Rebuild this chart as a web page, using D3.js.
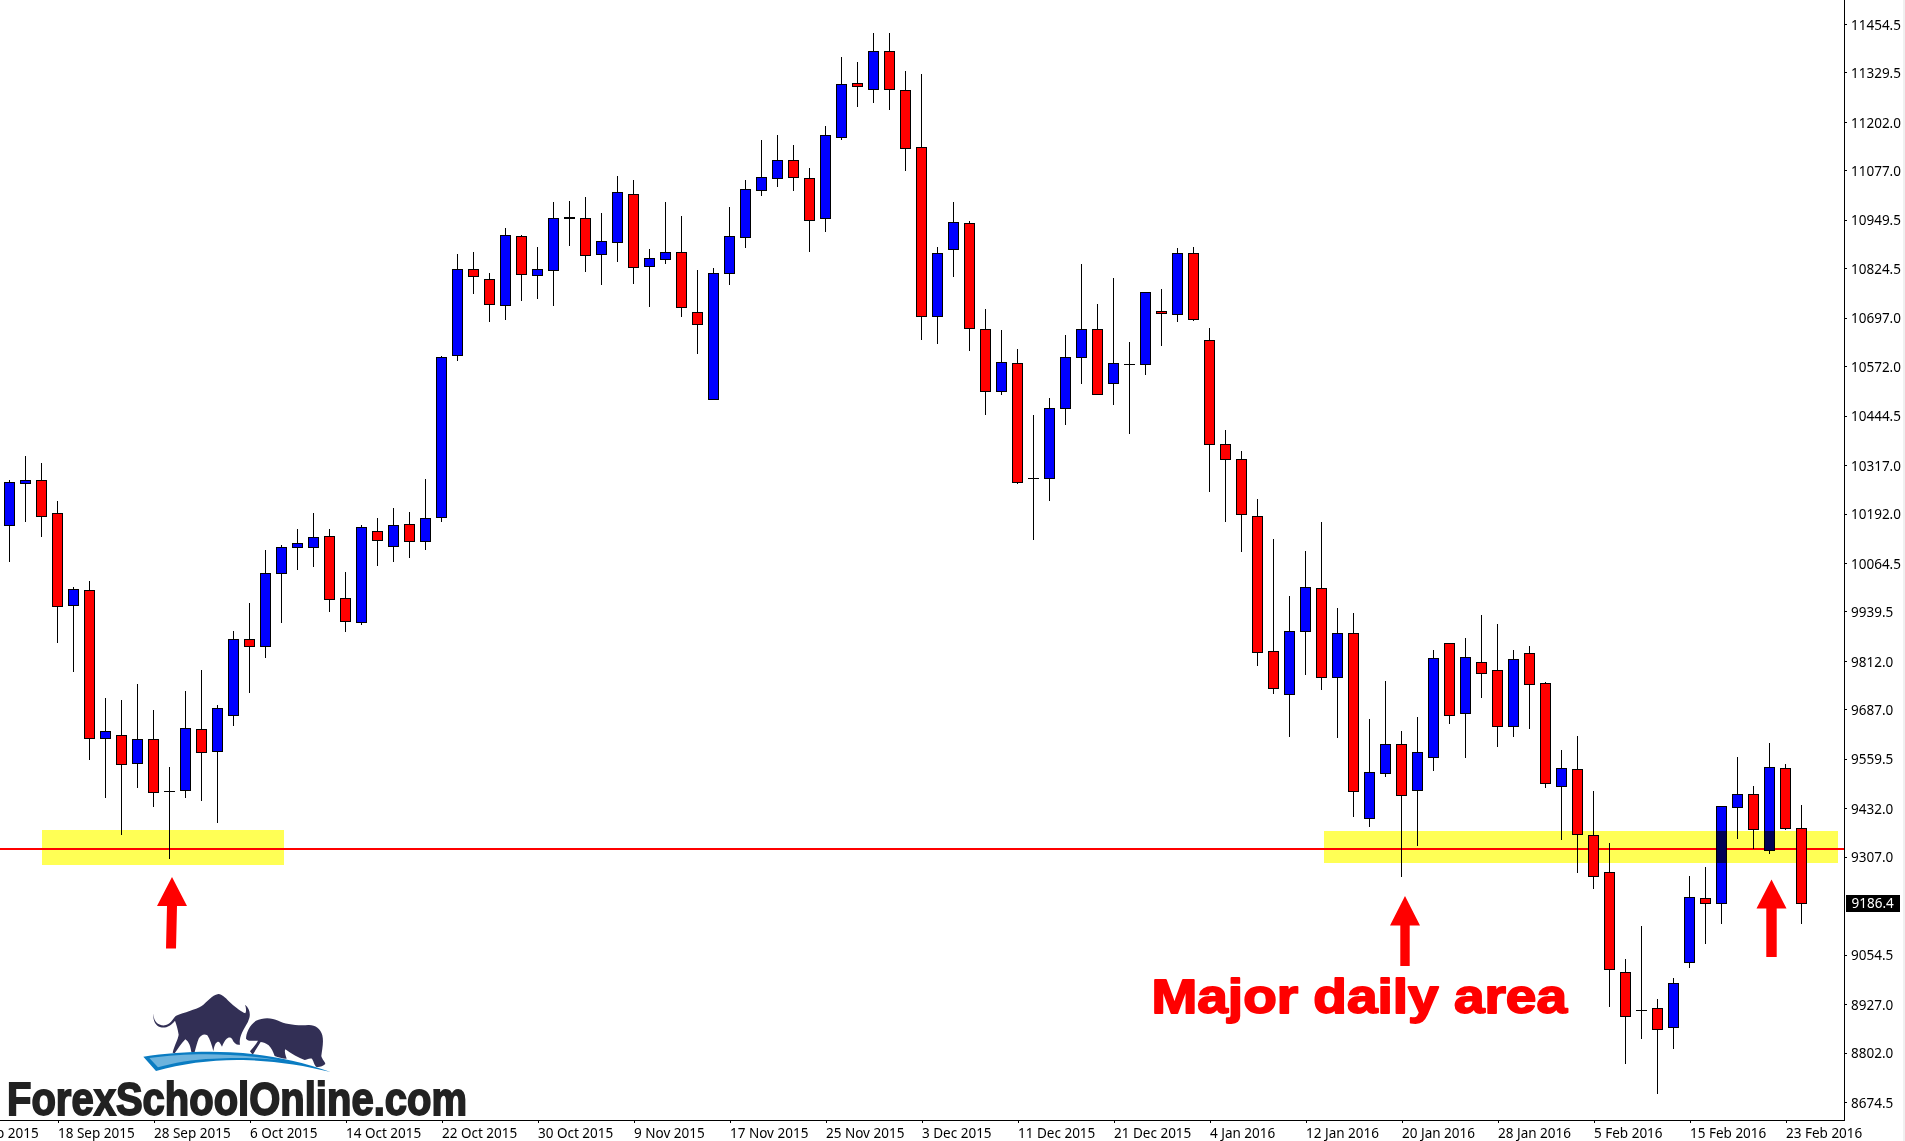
<!DOCTYPE html>
<html>
<head>
<meta charset="utf-8">
<script src="https://d3js.org/d3.v7.min.js"></script>
<style>
html,body{margin:0;padding:0;background:#fff;overflow:hidden}
svg{display:block}
.lbl{font-family:"Noto Sans",sans-serif;font-size:13.5px;fill:#000}
</style>
</head>
<body>
<svg id="c" width="1905" height="1141"></svg>
<script>
const opens=[10161,10270,10278,10193,9954,9994,9611,9620,9547,9610,9475,9478,9635,9578,9671,9868,9849,10038,10104,10104,10133,9973,9911,10146,10107,10164,10120,10181,10599,10822,10796,10728,10907,10805,10818,10953,10953,10860,10891,11015,10829,10847,10866,10711,10486,10811,10903,11026,11057,11103,11056,10953,11162,11301,11285,11384,11283,11136,10701,10873,10940,10667,10507,10579,10283,10283,10463,10595,10667,10528,10577,10577,10713,10706,10863,10639,10370,10332,10185,9837,9726,9887,9999,9770,9883,9406,9521,9597,9478,9563,9857,9677,9808,9788,9643,9831,9754,9488,9532,9362,9267,9009,8911,8916,8867,9035,9200,9187,9434,9468,9323,9535,9380];
const closes=[10272,10278,10184,9953,9996,9611,9630,9545,9610,9473,9475,9638,9576,9690,9868,9849,10038,10105,10115,10131,9970,9913,10156,10123,10162,10120,10180,10595,10822,10803,10732,10910,10809,10822,10953,10956,10857,10894,11021,10826,10850,10866,10723,10680,10811,10907,11028,11059,11103,11059,10948,11167,11299,11293,11384,11285,11134,10701,10863,10943,10670,10507,10582,10272,10283,10463,10595,10667,10499,10579,10577,10762,10708,10863,10693,10370,10331,10190,9834,9741,9888,10002,9770,9883,9476,9525,9597,9465,9576,9819,9672,9821,9780,9643,9816,9752,9496,9535,9365,9256,9016,8895,8911,8862,8980,9202,9187,9437,9468,9378,9537,9380,9186.4];
const highs=[10276,10340,10322,10222,10002,10018,9714,9709,9750,9683,9538,9734,9788,9696,9889,9959,10098,10110,10150,10191,10150,10039,10160,10180,10206,10196,10279,10598,10861,10866,10810,10928,10910,10877,10995,10998,11006,10967,11060,11052,10872,10995,10959,10818,10823,10980,11050,11153,11166,11142,11081,11189,11369,11354,11431,11429,11333,11323,10879,10993,10944,10719,10663,10614,10446,10490,10652,10833,10732,10799,10634,10762,10771,10876,10879,10670,10407,10353,10227,10124,9979,10095,10168,9946,9935,9660,9760,9631,9667,9840,9857,9871,9928,9907,9840,9848,9757,9580,9618,9474,9340,9043,9128,8940,8994,9257,9278,9437,9562,9489,9600,9546,9438];
const lows=[10068,10171,10132,9859,9784,9557,9459,9364,9485,9436,9302,9459,9451,9395,9645,9730,9820,9911,10047,10055,9939,9887,9905,10058,10068,10078,10099,10171,10586,10759,10687,10692,10741,10746,10728,10883,10816,10782,10842,10785,10726,10836,10700,10604,10485,10782,10878,11012,11035,11025,10867,10919,11156,11241,11252,11234,11076,10640,10630,10803,10612,10447,10499,10269,10125,10225,10421,10527,10499,10473,10398,10550,10625,10687,10689,10248,10171,10094,9800,9727,9617,9776,9738,9614,9410,9384,9513,9255,9335,9529,9650,9562,9717,9591,9617,9637,9485,9351,9266,9225,8920,8773,8838,8696,8812,9021,9083,9134,9353,9328,9315,9377,9134];
const priceTicks=[11454.5,11329.5,11202.0,11077.0,10949.5,10824.5,10697.0,10572.0,10444.5,10317.0,10192.0,10064.5,9939.5,9812.0,9687.0,9559.5,9432.0,9307.0,9054.5,8927.0,8802.0,8674.5];
const dateLabels=["10 Sep 2015","18 Sep 2015","28 Sep 2015","6 Oct 2015","14 Oct 2015","22 Oct 2015","30 Oct 2015","9 Nov 2015","17 Nov 2015","25 Nov 2015","3 Dec 2015","11 Dec 2015","21 Dec 2015","4 Jan 2016","12 Jan 2016","20 Jan 2016","28 Jan 2016","5 Feb 2016","15 Feb 2016","23 Feb 2016"];
const dateTickIndex=[-3,3,9,15,21,27,33,39,45,51,57,63,69,75,81,87,93,99,105,111];
const supportLevel=[9326.8];
const zoneTops=[9375.8,9373];
const zoneBottoms=[9285.6,9291];
const zoneStarts=[2.03,82.16];
const zoneEnds=[17.16,114.29];

const AXR=1844.5, AXB=1120.5;
const x=d3.scaleLinear().domain([0,112]).range([9.5,1801.5]);
const yRaw=d3.scaleLinear().domain([11454.5,8674.5]).range([24,1102]);
const y=v=>Math.floor(yRaw(v))+0.5;
const svg=d3.select('#c');

// right edge
svg.append('rect').attr('x',1903).attr('y',0).attr('width',2).attr('height',1141).attr('fill','#f0f0f0');

// support line
svg.selectAll('.sup').data(supportLevel).join('line').attr('class','sup')
 .attr('x1',0).attr('x2',AXR).attr('y1',d=>yRaw(d)).attr('y2',d=>yRaw(d))
 .attr('stroke','#ff0000').attr('stroke-width',2).attr('shape-rendering','crispEdges');

// candles
const candles=d3.range(opens.length);
const g=svg.append('g').attr('shape-rendering','crispEdges');
g.selectAll('line.w').data(candles).join('line').attr('class','w')
 .attr('x1',i=>x(i)).attr('x2',i=>x(i)).attr('y1',i=>y(highs[i])-0.5).attr('y2',i=>y(lows[i])+0.5)
 .attr('stroke','#000').attr('stroke-width',1);
g.selectAll('rect.b').data(candles.filter(i=>opens[i]!==closes[i])).join('rect').attr('class','b')
 .attr('x',i=>x(i)-5).attr('width',10)
 .attr('y',i=>y(Math.max(opens[i],closes[i])))
 .attr('height',i=>Math.max(1,y(Math.min(opens[i],closes[i]))-y(Math.max(opens[i],closes[i]))))
 .attr('fill',i=>closes[i]>opens[i]?'#0000ff':'#ff0000')
 .attr('stroke','#000').attr('stroke-width',1);
g.selectAll('line.d').data(candles.filter(i=>opens[i]===closes[i])).join('line').attr('class','d')
 .attr('x1',i=>x(i)-5.5).attr('x2',i=>x(i)+5.5).attr('y1',i=>y(opens[i])).attr('y2',i=>y(opens[i]))
 .attr('stroke','#000').attr('stroke-width',1);

// yellow zones
svg.selectAll('.zone').data(zoneTops.map((d,i)=>i)).join('rect').attr('class','zone')
 .attr('x',i=>Math.round(x(zoneStarts[i]))).attr('width',i=>Math.round(x(zoneEnds[i])-x(zoneStarts[i])))
 .attr('y',i=>Math.round(yRaw(zoneTops[i]))).attr('height',i=>Math.round(yRaw(zoneBottoms[i])-yRaw(zoneTops[i])))
 .attr('fill','#ffff55').style('mix-blend-mode','multiply').attr('shape-rendering','crispEdges');

// axes
const ax=svg.append('g').attr('transform',`translate(${AXR-0.5},0)`)
 .call(d3.axisRight(yRaw).tickValues(priceTicks).tickFormat(d3.format('.1f')).tickSize(3).tickPadding(4));
const bx=svg.append('g').attr('transform',`translate(0,${AXB-0.5})`)
 .call(d3.axisBottom(x).tickValues(dateTickIndex).tickFormat((d,i)=>dateLabels[i]).tickSize(3).tickPadding(5));
[ax,bx].forEach(a=>{a.select('.domain').remove();a.selectAll('line').attr('stroke','#000').attr('shape-rendering','crispEdges');a.selectAll('text').attr('class','lbl').attr('fill','#000').style('font-family','"Noto Sans",sans-serif').style('font-size','13.5px');});
ax.selectAll('text').attr('dy','0.38em');
bx.selectAll('text').attr('text-anchor','start');
svg.append('line').attr('x1',AXR).attr('x2',AXR).attr('y1',0).attr('y2',AXB).attr('stroke','#000').attr('shape-rendering','crispEdges');
svg.append('line').attr('x1',0).attr('x2',AXR).attr('y1',AXB).attr('y2',AXB).attr('stroke','#000').attr('shape-rendering','crispEdges');

// current price tag
const last=closes[closes.length-1];
svg.append('rect').attr('x',1846).attr('y',yRaw(last)-8.5).attr('width',54).attr('height',17).attr('fill','#000');
svg.append('text').attr('class','lbl').attr('x',1851.5).attr('y',yRaw(last)).attr('dy','0.36em').style('fill','#fff').text(d3.format('.1f')(last));

// arrows
function arrow(tx,ty,by,hw,sw,ey,dx){
 svg.append('path').attr('d',`M${tx},${ty}L${tx+hw},${by}L${tx+sw},${by}L${tx+sw+(dx||0)},${ey}L${tx-sw+(dx||0)},${ey}L${tx-sw},${by}L${tx-hw},${by}Z`).attr('fill','#ff0000');
}
arrow(172,877,906,15,5,948.5,-1);
arrow(1405,896,925.5,15,4.7,966,0);
arrow(1771.5,879.5,908.5,15,5.2,957,0);

// annotation
svg.append('text').attr('x',1151.5).attr('y',1012.7).attr('textLength',415.5).attr('lengthAdjust','spacingAndGlyphs')
 .style('font-family','"Liberation Sans",Arial,sans-serif').style('font-weight','700').style('font-size','48px')
 .attr('fill','#ff0000').attr('stroke','#ff0000').attr('stroke-width',1.8).attr('stroke-linejoin','round').text('Major daily area');

// logo
const logo=svg.append('g').attr('transform','translate(130,980) scale(0.3333)');
logo.append('path').attr('fill','#322f55').attr('d','M72,100C68,118 80,138 105,136C120,134 128,118 137,108C165,96 195,90 215,78C232,66 245,46 265,42C278,42 290,58 303,70C318,84 335,96 346,100C350,92 348,82 345,74C358,84 362,100 358,114C354,130 342,144 336,158C330,172 328,182 330,194C320,196 312,190 306,176C300,170 296,172 290,176C284,182 280,190 276,200C270,190 268,184 262,186C254,190 252,204 250,214C246,196 240,178 232,166C222,160 212,166 206,176C202,186 198,200 194,216L184,216C182,200 176,184 166,178C154,190 144,206 134,220L128,218C134,194 144,178 146,164C144,148 138,130 135,122C124,136 108,146 92,142C76,138 66,116 72,100Z');
logo.append('path').attr('fill','#322f55').attr('d','M348,176C348,160 358,136 378,122C398,112 425,112 445,122C465,132 500,138 535,135C555,134 572,146 577,166C582,186 576,210 574,228C576,238 586,246 586,252C578,258 566,264 558,260C552,254 552,246 546,236C536,234 530,240 524,240C506,234 484,222 466,208C462,216 468,228 470,236C458,236 444,232 434,228C430,216 424,204 416,196C406,188 398,186 392,186C384,198 376,212 368,224L360,214C368,204 378,194 384,182C372,182 360,184 352,180Z');
logo.append('path').attr('fill','#0a7cc2').attr('d','M40,230C120,218 220,212 300,217C400,222 500,240 602,276C520,255 430,242 340,240C250,238 160,250 78,273Z');
logo.append('path').attr('fill','#6db3dd').attr('d','M58,234C130,224 220,220 300,225C350,228 400,232 448,241C380,233 310,232 250,236C190,238 130,248 84,262Z');
svg.append('text').attr('x',7).attr('y',1115).attr('textLength',460).attr('lengthAdjust','spacingAndGlyphs')
 .style('font-family','"Liberation Sans",Arial,sans-serif').style('font-weight','700').style('font-size','47px')
 .attr('fill','#222').attr('stroke','#222').attr('stroke-width',1.8).text('ForexSchoolOnline.com');
</script>
</body>
</html>
